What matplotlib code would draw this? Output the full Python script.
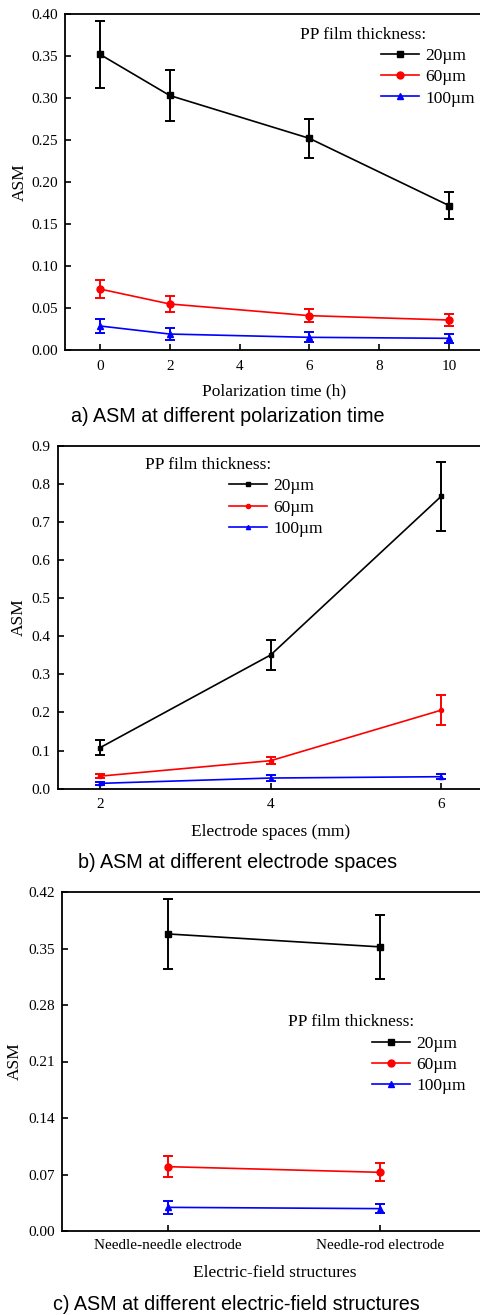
import numpy as np
import matplotlib
matplotlib.use('Agg')
import matplotlib.pyplot as plt

plt.rcParams['font.family'] = ['Liberation Serif', 'DejaVu Serif']

W, H = 481.0, 1315.0

labels = ['20\u00b5m', '60\u00b5m', '100\u00b5m']
colors = ['black', 'red', 'blue']
markers = ['s', 'o', '^']

# a) polarization time
time_h = [0, 2, 6, 10]
asm_a = [[0.352, 0.303, 0.252, 0.172],
         [0.0726, 0.0548, 0.0409, 0.0357],
         [0.0286, 0.0190, 0.0151, 0.0139]]
err_a = [[0.040, 0.030, 0.023, 0.016],
         [0.011, 0.009, 0.0076, 0.0075],
         [0.0088, 0.0075, 0.006, 0.005]]

# b) electrode spaces
space_mm = [2, 4, 6]
asm_b = [[0.108, 0.351, 0.767],
         [0.033, 0.0735, 0.206],
         [0.014, 0.028, 0.0315]]
err_b = [[0.020, 0.040, 0.090],
         [0.006, 0.009, 0.040],
         [0.004, 0.007, 0.006]]

# c) electric-field structures
structures = ['Needle-needle electrode', 'Needle-rod electrode']
asm_c = [[0.368, 0.352],
         [0.0797, 0.0727],
         [0.0293, 0.0277]]
err_c = [[0.043, 0.040],
         [0.013, 0.011],
         [0.008, 0.006]]


def box(l, t, r, b):
    # pixel box -> figure fraction rect
    return [l / W, 1 - b / H, (r - l) / W, (b - t) / H]


def fx(x, y):
    return (x / W, 1 - y / H)


fig = plt.figure(figsize=(4.81, 13.15), dpi=100)


def style(ax, xpad, ypad):
    ax.spines['right'].set_visible(False)
    for s in ['left', 'bottom', 'top']:
        ax.spines[s].set_linewidth(1.3)
    ax.tick_params(direction='in', length=4, width=1.2, labelsize=11)
    ax.tick_params(axis='x', pad=xpad)
    ax.tick_params(axis='y', pad=ypad)
    ax.xaxis.set_ticks_position('bottom')
    ax.yaxis.set_ticks_position('left')


def draw(ax, x, ys, es, ms):
    for y, e, c, m, lab in zip(ys, es, colors, markers, labels):
        ax.errorbar(x, y, yerr=e, color=c, marker=m, markersize=ms, lw=1.2,
                    elinewidth=1.4, capsize=3.5, capthick=1.4, label=lab)


def legend(ax, tx, ty, hx, hy):
    fig.text(*fx(tx, ty), 'PP film thickness:', fontsize=12.5, va='center', ha='left')
    h, l = ax.get_legend_handles_labels()
    h = [hh[0] for hh in h]
    ax.legend(h, l, loc='upper left', bbox_to_anchor=fx(hx, hy),
              bbox_transform=fig.transFigure, frameon=False, fontsize=12.5,
              borderpad=0, borderaxespad=0, handlelength=2.2, handletextpad=0.35,
              labelspacing=0.29)


def ylab(ax, left, width, xr):
    ax.set_ylabel('ASM', fontsize=12.5)
    ax.yaxis.set_label_coords((xr - left) / width, 0.5)


# panel a
ax1 = fig.add_axes(box(65, 14, 483.8, 350))
draw(ax1, time_h, asm_a, err_a, 5)
ax1.set_xlim(-1, 11)
ax1.set_ylim(0, 0.40)
ax1.set_xticks([0, 2, 4, 6, 8, 10])
ax1.set_yticks(np.arange(0, 0.401, 0.05))
ax1.yaxis.set_major_formatter(matplotlib.ticker.FormatStrFormatter('%.2f'))
style(ax1, 7, 5)
ax1.set_xlabel('Polarization time (h)', fontsize=12.5, labelpad=8)
ylab(ax1, 65, 418.8, 28)
legend(ax1, 300, 35, 381, 48)

# panel b
ax2 = fig.add_axes(box(57.7, 445.7, 483.7, 788.7))
draw(ax2, space_mm, asm_b, err_b, 3)
ax2.set_xlim(1.5, 6.5)
ax2.set_ylim(0, 0.9)
ax2.set_xticks(space_mm)
ax2.set_yticks(np.arange(0, 0.901, 0.1))
ax2.yaxis.set_major_formatter(matplotlib.ticker.FormatStrFormatter('%.1f'))
style(ax2, 7, 5)
ax2.set_xlabel('Electrode spaces (mm)', fontsize=12.5, labelpad=9)
ylab(ax2, 57.7, 426, 27)
legend(ax2, 145, 464.5, 228.7, 478.3)

# panel c
ax3 = fig.add_axes(box(62.3, 892, 486.3, 1231))
draw(ax3, [0, 1], asm_c, err_c, 5)
ax3.set_xlim(-0.5, 1.5)
ax3.set_ylim(0, 0.42)
ax3.set_xticks([0, 1])
ax3.set_xticklabels(structures)
ax3.set_yticks(np.arange(0, 0.421, 0.07))
ax3.yaxis.set_major_formatter(matplotlib.ticker.FormatStrFormatter('%.2f'))
style(ax3, 6, 5.5)
ax3.set_xlabel('Electric-field structures', fontsize=12.5, labelpad=9)
ylab(ax3, 62.3, 424, 23)
legend(ax3, 288, 1022, 372, 1035.7)

# captions
cap = dict(fontsize=14.2, family=['Liberation Sans', 'DejaVu Sans'], ha='center', va='center')
fig.text(*fx(228, 417), 'a) ASM at different polarization time', **cap)
fig.text(*fx(238, 863), 'b) ASM at different electrode spaces', **cap)
fig.text(*fx(236, 1305), 'c) ASM at different electric-field structures', **cap)

fig.savefig('out.png', dpi=100)
